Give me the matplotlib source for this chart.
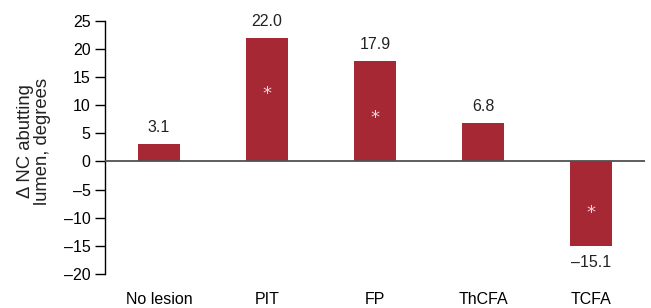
import matplotlib
matplotlib.use("Agg")
import matplotlib.pyplot as plt

categories = ["No lesion", "PIT", "FP", "ThCFA", "TCFA"]
values = [3.1, 22.0, 17.9, 6.8, -15.1]
value_labels = ["3.1", "22.0", "17.9", "6.8", "\u201315.1"]
significant = [False, True, True, False, True]
star_y = [None, 12.0, 7.7, None, -9.2]
yticks = [-20, -15, -10, -5, 0, 5, 10, 15, 20, 25]
ytick_labels = ["\u201320", "\u201315", "\u201310", "\u20135", "0", "5", "10", "15", "20", "25"]

plt.rcParams['font.family'] = ['Liberation Sans', 'DejaVu Sans']
fig = plt.figure(figsize=(6.51, 3.08), dpi=100)
ax = fig.add_axes([105/651, 1-274/308, 540/651, (274-20.7)/308])

bar_color = "#a52834"
x = list(range(len(categories)))
ax.bar(x, values, width=0.39, color=bar_color, zorder=2)
ax.axhline(0, color="#505050", lw=1.3, zorder=3)

for i, (v, lab) in enumerate(zip(values, value_labels)):
    if v >= 0:
        ax.text(i, v + 1.6, lab, ha='center', va='bottom', fontsize=11.5, color="#222222")
    else:
        ax.text(i, v - 1.6, lab, ha='center', va='top', fontsize=11.5, color="#222222")
    if significant[i]:
        ax.text(i, star_y[i], "*", ha='center', va='center', fontsize=13,
                color="#f0d8dc", family='DejaVu Sans')

ax.set_xlim(-0.5, len(categories) - 0.5)
ax.set_ylim(-20, 25)
ax.set_yticks(yticks)
ax.set_yticklabels(ytick_labels, fontsize=11.5)
ax.set_xticks(x)
ax.set_xticklabels(categories, fontsize=11.5)
ax.tick_params(axis='x', length=0, pad=13)
ax.tick_params(axis='y', length=7.5, width=1, direction='out', pad=3)
for s in ['top', 'right', 'bottom']:
    ax.spines[s].set_visible(False)
ax.spines['left'].set_linewidth(1)
fig.text(34/651, 1-141.5/308, "\u0394 NC abutting\nlumen, degrees", rotation=90,
         ha='center', va='center', fontsize=13.3, linespacing=1.0, color="#222222")

fig.savefig("out.png", dpi=100)
